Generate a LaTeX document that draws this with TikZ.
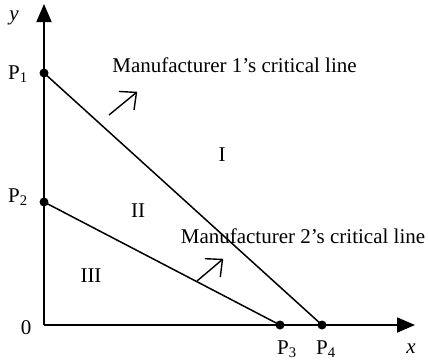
\documentclass[tikz,border=0pt]{standalone}
\usepackage{fontspec}
\setmainfont{Liberation Serif}
\usetikzlibrary{arrows.meta}
% open arrow tip with straight arms
\pgfdeclarearrow{
  name = Vee,
  defaults = {length=13pt, width=24pt},
  parameters = {\the\pgfarrowlength,\the\pgfarrowwidth},
  setup code = {
    \pgfarrowssettipend{.5\pgflinewidth}
    \pgfarrowssetlineend{-.5\pgflinewidth}
    \pgfarrowssetbackend{-\pgfarrowlength}
    \pgfarrowsupperhullpoint{-\pgfarrowlength}{.5\pgfarrowwidth}
    \pgfarrowssavethe\pgfarrowlength
    \pgfarrowssavethe\pgfarrowwidth
  },
  drawing code = {
    \pgfsetdash{}{0pt}\pgfsetmiterjoin\pgfsetbuttcap
    \pgfpathmoveto{\pgfqpoint{-\pgfarrowlength}{.5\pgfarrowwidth}}
    \pgfpathlineto{\pgfqpoint{0pt}{0pt}}
    \pgfpathlineto{\pgfqpoint{-\pgfarrowlength}{-.5\pgfarrowwidth}}
    \pgfusepathqstroke
  }
}
\tikzset{
  axis/.style={line width=1.8pt, -{Triangle[length=18pt,width=15pt]}},
  crit/.style={line width=1.5pt},
  dir/.style={line width=1.4pt, -{Vee}},
  dot/.style={circle, fill, inner sep=0pt, minimum size=9pt},
  lbl/.style={font=\fontsize{21}{25}\selectfont, inner sep=0pt}
}
\begin{document}
\begin{tikzpicture}[x=1pt,y=1pt]
  \useasboundingbox (0,0) rectangle (428,360);
  \coordinate (O) at (44,35); \coordinate (Y) at (44,356);
  \coordinate (X) at (415,35);
  \node[dot] (P1) at (44,287) {}; \node[dot] (P2) at (44,158) {};
  \node[dot] (P3) at (280,35) {}; \node[dot] (P4) at (322,35) {};
  \draw[axis] (O) -- (Y); \draw[axis] (O) -- (X);
  \draw[crit] (P1.center) -- (P4.center);
  \draw[crit] (P2.center) -- (P3.center);
  \node[lbl] (ylab) at (14,342) {\itshape y};
  \node[lbl] (xlab) at (411,11) {\itshape x};
  \node[lbl] (zero) at (26,32) {0};
  \node[lbl] (p1lab) at (18,286) {P\textsubscript{1}};
  \node[lbl] (p2lab) at (18,163) {P\textsubscript{2}};
  \node[lbl] (p3lab) at (287,11) {P\textsubscript{3}};
  \node[lbl] (p4lab) at (326,11) {P\textsubscript{4}};
  \node[lbl] (crit1) at (234.5,295) {Manufacturer 1’s critical line};
  \node[lbl] (crit2) at (303,124) {Manufacturer 2’s critical line};
  \node[lbl] (regI) at (222,205) {I};
  \node[lbl] (regII) at (138,149) {II};
  \node[lbl] (regIII) at (91,84) {III};
  \coordinate (a1) at (109,245); \coordinate (b1) at (137,268);
  \coordinate (a2) at (197,79); \coordinate (b2) at (223,101);
  \draw[dir] (a1) -- (b1); \draw[dir] (a2) -- (b2);
\end{tikzpicture}
\end{document}
